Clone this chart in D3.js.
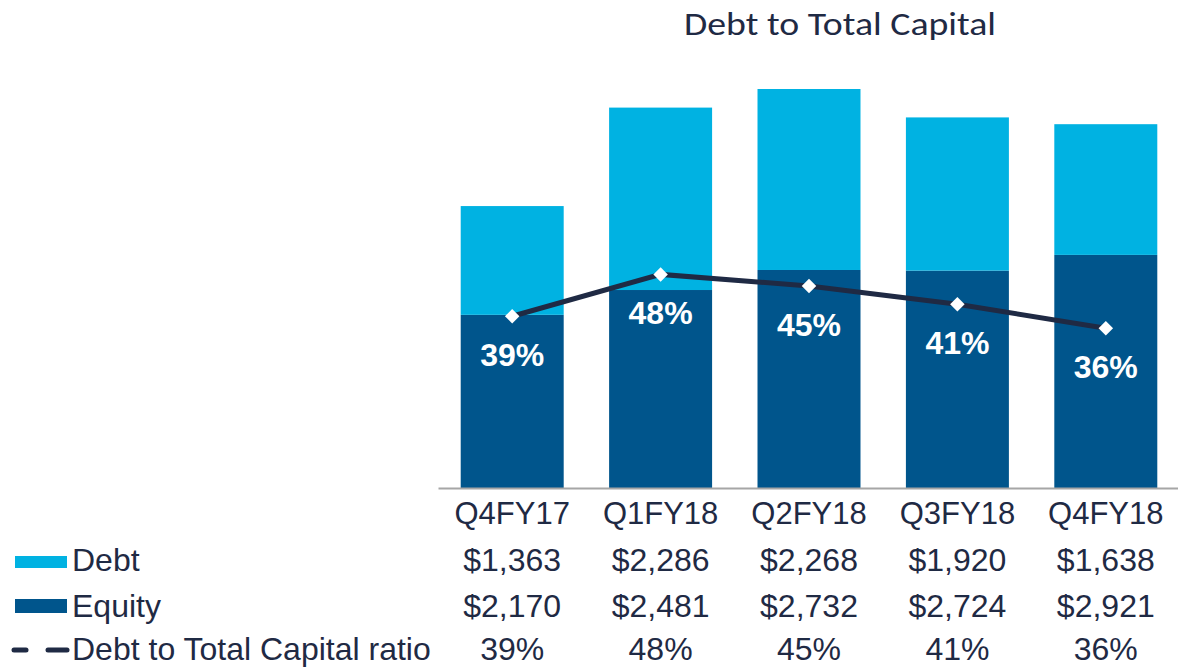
<!DOCTYPE html>
<html>
<head>
<meta charset="utf-8">
<script src="https://cdn.jsdelivr.net/npm/d3@7"></script>
<style>
  body { margin: 0; background: #fff; }
  svg { display: block; }
</style>
</head>
<body>
<div id="chart"></div>
<script>
const quarters = ['Q4FY17', 'Q1FY18', 'Q2FY18', 'Q3FY18', 'Q4FY18'];
const debt = [1363, 2286, 2268, 1920, 1638];
const equity = [2170, 2481, 2732, 2724, 2921];
const ratio = [0.386, 0.48, 0.454, 0.413, 0.359];
const ratioLabels = ['39%', '48%', '45%', '41%', '36%'];

const width = 1178;
const height = 667;
const ink = '#1f2a44';
const debtColor = '#00b2e2';
const equityColor = '#00558c';
const font = '"Liberation Sans", Arial, sans-serif';

const svg = d3.select('#chart')
  .append('svg')
  .attr('width', width)
  .attr('height', height);

const x = d3.scaleBand()
  .domain(quarters)
  .range([438, 1180])
  .paddingInner(0.306)
  .paddingOuter(0.153);

const y = d3.scaleLinear()
  .domain([0, 5000])
  .range([488, 89]);

const yRatio = d3.scaleLinear()
  .domain([0, 1])
  .range([488, 43]);

const rows = quarters.map((q, i) => ({ q, debt: debt[i], equity: equity[i] }));
const stack = d3.stack().keys(['equity', 'debt'])(rows);
const colors = { equity: equityColor, debt: debtColor };

// title
svg.append('text')
  .attr('x', 840)
  .attr('y', 35)
  .attr('text-anchor', 'middle')
  .attr('font-family', 'Carlito, Calibri, Lato, sans-serif')
  .attr('font-size', 33)
  .attr('textLength', 312)
  .attr('lengthAdjust', 'spacingAndGlyphs')
  .attr('fill', ink)
  .text('Debt to Total Capital');

// bars
svg.selectAll('.layer')
  .data(stack)
  .enter().append('g')
  .attr('class', 'layer')
  .attr('fill', d => colors[d.key])
  .selectAll('rect')
  .data(d => d)
  .enter().append('rect')
  .attr('x', d => x(d.data.q))
  .attr('y', d => y(d[1]))
  .attr('width', x.bandwidth())
  .attr('height', d => y(d[0]) - y(d[1]));

// axis
const axis = svg.append('g')
  .attr('transform', 'translate(0,488)')
  .call(d3.axisBottom(x).tickSize(0).tickSizeOuter(0).tickPadding(14));

axis.select('.domain')
  .attr('stroke', '#a6a6a6')
  .attr('stroke-width', 2);

axis.selectAll('text')
  .attr('font-family', font)
  .attr('font-size', 31)
  .attr('fill', ink);

// ratio line
const line = d3.line()
  .x((d, i) => x(quarters[i]) + x.bandwidth() / 2)
  .y(d => yRatio(d));

svg.append('path')
  .datum(ratio)
  .attr('d', line)
  .attr('fill', 'none')
  .attr('stroke', ink)
  .attr('stroke-width', 5);

svg.selectAll('.marker')
  .data(ratio)
  .enter().append('path')
  .attr('class', 'marker')
  .attr('d', d3.symbol().type(d3.symbolSquare).size(105))
  .attr('transform', (d, i) => `translate(${x(quarters[i]) + x.bandwidth() / 2},${yRatio(d)}) rotate(45)`)
  .attr('fill', '#fff');

svg.selectAll('.ratio-label')
  .data(ratio)
  .enter().append('text')
  .attr('class', 'ratio-label')
  .attr('x', (d, i) => x(quarters[i]) + x.bandwidth() / 2)
  .attr('y', d => yRatio(d) + 50)
  .attr('text-anchor', 'middle')
  .attr('font-family', font)
  .attr('font-weight', 'bold')
  .attr('font-size', 32)
  .attr('fill', '#fff')
  .text((d, i) => ratioLabels[i]);

// data table
const fmt = d3.format('$,');
const tableRows = [
  { values: debt.map(fmt), y: 571 },
  { values: equity.map(fmt), y: 617 },
  { values: ratioLabels, y: 660 }
];

tableRows.forEach(row => {
  svg.append('g')
    .selectAll('text')
    .data(row.values)
    .enter().append('text')
    .attr('x', (d, i) => x(quarters[i]) + x.bandwidth() / 2)
    .attr('y', row.y)
    .attr('text-anchor', 'middle')
    .attr('font-family', font)
    .attr('font-size', 32)
    .attr('fill', ink)
    .text(d => d);
});

// legend
const legend = svg.append('g');

legend.append('rect')
  .attr('x', 15).attr('y', 556)
  .attr('width', 52).attr('height', 12)
  .attr('fill', debtColor);

legend.append('rect')
  .attr('x', 15).attr('y', 599)
  .attr('width', 52).attr('height', 14)
  .attr('fill', equityColor);

legend.append('line')
  .attr('x1', 14).attr('x2', 26)
  .attr('y1', 650).attr('y2', 650)
  .attr('stroke', ink).attr('stroke-width', 5)
  .attr('stroke-linecap', 'round');

legend.append('line')
  .attr('x1', 48).attr('x2', 67)
  .attr('y1', 650).attr('y2', 650)
  .attr('stroke', ink).attr('stroke-width', 5)
  .attr('stroke-linecap', 'round');

const legendLabels = ['Debt', 'Equity', 'Debt to Total Capital ratio'];
legend.selectAll('text')
  .data(legendLabels)
  .enter().append('text')
  .attr('x', 72)
  .attr('y', (d, i) => tableRows[i].y)
  .attr('font-family', font)
  .attr('font-size', 32)
  .attr('fill', ink)
  .text(d => d);
</script>
</body>
</html>
